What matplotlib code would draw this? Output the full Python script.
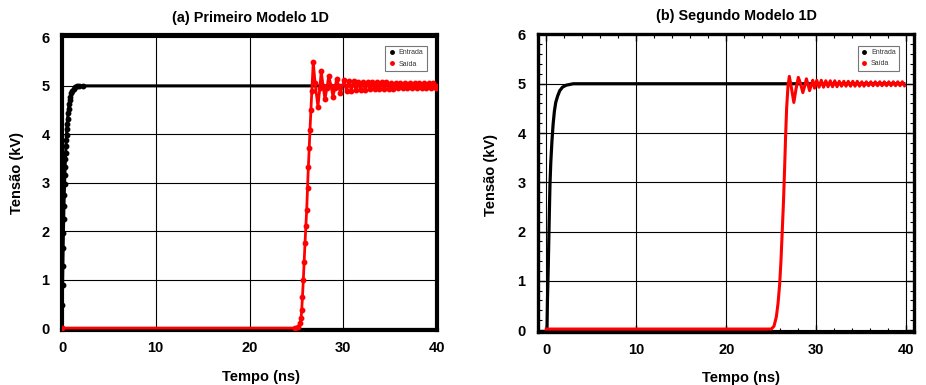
import matplotlib
matplotlib.use("Agg")
import matplotlib.pyplot as plt
from matplotlib.lines import Line2D
from matplotlib.ticker import MultipleLocator

plt.rcParams['font.family'] = ['Liberation Sans', 'DejaVu Sans']

# ---------------- data ----------------
x_ticks = [0, 10, 20, 30, 40]
y_ticks = [0, 1, 2, 3, 4, 5, 6]
titles = ["(a) Primeiro Modelo 1D", "(b) Segundo Modelo 1D"]
legend_labels = ["Entrada", "Saída"]

# (a) Entrada
entrada_a_t = [0.00, 0.03, 0.06, 0.09, 0.12, 0.15, 0.18, 0.21, 0.24, 0.27, 0.30,
               0.33, 0.36, 0.39, 0.42, 0.45, 0.48, 0.52, 0.56, 0.60, 0.65, 0.70,
               0.76, 0.82, 0.90, 1.00, 1.10, 1.25, 1.40, 1.60, 1.85, 2.20, 40.0]
entrada_a_v = [0.00, 0.47, 0.89, 1.28, 1.65, 1.96, 2.25, 2.52, 2.74, 2.97, 3.15,
               3.33, 3.48, 3.62, 3.76, 3.88, 3.98, 4.10, 4.22, 4.32, 4.43, 4.53,
               4.62, 4.70, 4.78, 4.85, 4.90, 4.94, 4.97, 4.99, 5.00, 5.00, 5.00]

# (a) Saida: rise and first oscillations
saida_a_t = [0.0, 24.9, 25.2, 25.4, 25.5, 25.57, 25.65, 25.74, 25.83, 25.92, 26.01,
             26.1, 26.19, 26.28, 26.37, 26.45, 26.55, 26.65, 26.8, 27.0, 27.3,
             27.5, 27.65, 27.85, 28.05, 28.25, 28.45, 28.7, 28.9, 29.1, 29.3,
             29.5, 29.7]
saida_a_v = [0.0, 0.0, 0.03, 0.10, 0.20, 0.37, 0.65, 0.99, 1.37, 1.75, 2.10,
             2.43, 2.90, 3.33, 3.72, 4.08, 4.50, 4.90, 5.50, 5.05, 4.57,
             4.95, 5.30, 5.00, 4.72, 4.95, 5.20, 5.00, 4.78, 4.95, 5.14,
             5.00, 4.85]
# (a) Saida: small ripple after 30 ns
ripple_a_t = [30.10, 30.35, 30.60, 30.85, 31.10, 31.35, 31.60, 31.85, 32.10, 32.35,
              32.60, 32.85, 33.10, 33.35, 33.60, 33.85, 34.10, 34.35, 34.60, 34.85,
              35.10, 35.35, 35.60, 35.85, 36.10, 36.35, 36.60, 36.85, 37.10, 37.35,
              37.60, 37.85, 38.10, 38.35, 38.60, 38.85, 39.10, 39.35, 39.60, 39.85, 40.0]
ripple_a_v = [5.12, 4.89, 5.11, 4.90, 5.10, 4.91, 5.09, 4.92, 5.09, 4.92,
              5.08, 4.93, 5.08, 4.93, 5.07, 4.94, 5.07, 4.94, 5.07, 4.94,
              5.06, 4.94, 5.06, 4.95, 5.06, 4.95, 5.06, 4.95, 5.05, 4.95,
              5.05, 4.95, 5.05, 4.95, 5.05, 4.96, 5.05, 4.96, 5.05, 4.96, 5.00]

# (b) Entrada
entrada_b_t = [0.0, 0.08, 0.13, 0.22, 0.32, 0.41, 0.50, 0.63, 0.76, 0.90, 1.05,
               1.26, 1.50, 1.80, 2.20, 3.00, 39.9]
entrada_b_v = [0.0, 0.0, 0.60, 1.28, 2.20, 2.96, 3.40, 3.84, 4.18, 4.44, 4.62,
               4.75, 4.86, 4.93, 4.97, 5.00, 5.00]

# (b) Saida
saida_b_t = [0.0, 25.0, 25.3, 25.56, 25.75, 25.93, 26.07, 26.2, 26.35, 26.48,
             26.58, 26.7, 26.85, 27.0, 27.25, 27.5, 27.75, 28.0, 28.25, 28.5,
             28.7, 28.9, 29.08, 29.25, 29.43, 29.6, 29.8]
saida_b_v = [0.02, 0.02, 0.08, 0.27, 0.55, 0.94, 1.40, 1.95, 2.60, 3.30,
             3.90, 4.50, 4.95, 5.15, 4.90, 4.62, 4.90, 5.13, 5.00, 4.82,
             4.95, 5.10, 4.98, 4.86, 4.97, 5.07, 4.91]
ripple_b_t = [30.05, 30.30, 30.55, 30.80, 31.05, 31.30, 31.55, 31.80, 32.05, 32.30,
              32.55, 32.80, 33.05, 33.30, 33.55, 33.80, 34.05, 34.30, 34.55, 34.80,
              35.05, 35.30, 35.55, 35.80, 36.05, 36.30, 36.55, 36.80, 37.05, 37.30,
              37.55, 37.80, 38.05, 38.30, 38.55, 38.80, 39.05, 39.30, 39.55, 39.80]
ripple_b_v = [5.07, 4.93, 5.07, 4.93, 5.06, 4.94, 5.06, 4.94, 5.06, 4.94,
              5.05, 4.95, 5.05, 4.95, 5.05, 4.95, 5.05, 4.95, 5.05, 4.95,
              5.04, 4.95, 5.04, 4.96, 5.04, 4.96, 5.04, 4.96, 5.04, 4.96,
              5.04, 4.96, 5.04, 4.96, 5.04, 4.96, 5.04, 4.96, 5.04, 4.96]

# ---------------- figure ----------------
W, H = 926, 385
fig = plt.figure(figsize=(W / 100, H / 100), dpi=100)

def px_axes(l, t, r, b):
    return fig.add_axes([l / W, 1 - b / H, (r - l) / W, (b - t) / H])

axA = px_axes(62, 35, 437, 330)
axB = px_axes(538, 34, 914, 332)

tick_font = dict(fontsize=10.5, fontweight='bold')

def style(ax, spine_w):
    ax.set_xticks(x_ticks)
    ax.set_yticks(y_ticks)
    ax.set_xticklabels([str(v) for v in x_ticks], **tick_font)
    ax.set_yticklabels([str(v) for v in y_ticks], **tick_font)
    ax.grid(True, which='major', color='black', linewidth=0.8)
    ax.set_axisbelow(True)
    for s in ax.spines.values():
        s.set_linewidth(spine_w)
        s.set_color('black')

# ---- panel (a): dotted series ----
style(axA, 3.0)
axA.set_xlim(0, 40)
axA.set_ylim(-0.04, 6.05)
axA.tick_params(axis='both', which='both', length=0, pad=9)
axA.tick_params(axis='x', pad=8)

axA.plot(entrada_a_t, entrada_a_v, color='black', lw=2.2, marker='o', ms=3.2,
         mec='black', zorder=3, clip_on=True)
axA.plot(saida_a_t + ripple_a_t, saida_a_v + ripple_a_v, color='red', lw=2.0,
         marker='o', ms=3.2, mec='red', zorder=4)

# ---- panel (b): solid lines ----
style(axB, 2.4)
axB.set_xlim(-0.92, 40.85)
axB.set_ylim(-0.04, 6.01)
axB.xaxis.set_minor_locator(MultipleLocator(2))
axB.yaxis.set_minor_locator(MultipleLocator(0.2))
axB.tick_params(axis='both', which='both', direction='in', top=True, right=True,
                color='black')
axB.tick_params(axis='both', which='major', length=5, width=1.0)
axB.tick_params(axis='both', which='minor', length=3, width=0.8)
axB.tick_params(axis='y', which='major', pad=9)
axB.tick_params(axis='x', which='major', pad=8)

axB.plot(entrada_b_t, entrada_b_v, color='black', lw=2.3, zorder=3,
         solid_capstyle='butt')
axB.plot(saida_b_t + ripple_b_t, saida_b_v + ripple_b_v, color='red', lw=2.2,
         zorder=4)

# ---- titles, labels, legends ----
label_font = dict(fontsize=10.5, fontweight='bold')
for ax, title, tx, ty, xl, yl in [
        (axA, titles[0], 0.503, 1.058, (0.532, -0.158), (-0.121, 0.532)),
        (axB, titles[1], 0.527, 1.06, (0.540, -0.153), (-0.125, 0.527))]:
    ax.text(tx, ty, title, transform=ax.transAxes, ha='center', va='center',
            fontsize=10.4, fontweight='bold')
    ax.text(xl[0], xl[1], "Tempo (ns)", transform=ax.transAxes, ha='center',
            va='center', **label_font)
    ax.text(yl[0], yl[1], "Tensão (kV)", transform=ax.transAxes, ha='center',
            va='center', rotation=90, **label_font)

handles = [Line2D([], [], ls='none', marker='o', ms=2.5, color='black'),
           Line2D([], [], ls='none', marker='o', ms=2.5, color='red')]
for ax, anchor in [(axA, (0.973, 0.963)), (axB, (0.961, 0.961))]:
    leg = ax.legend(handles, legend_labels, loc='upper right', bbox_to_anchor=anchor,
                    fontsize=5, frameon=True, fancybox=False, handlelength=0.8,
                    handletextpad=0.6, borderpad=0.5, labelspacing=0.6,
                    borderaxespad=0)
    leg.get_frame().set_edgecolor('#555555')
    leg.get_frame().set_linewidth(0.8)
    for t in leg.get_texts():
        t.set_color('#333333')

fig.savefig("out.png", dpi=100)
